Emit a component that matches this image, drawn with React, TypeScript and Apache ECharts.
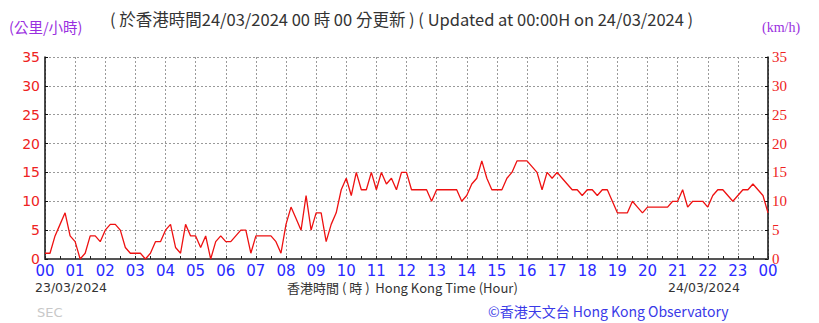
import React, { useEffect, useRef } from "react";
import * as echarts from "echarts";

// 10-minute mean wind speed (km/h), sampled every 10 minutes from 00:00 on 23/03 to 00:00 on 24/03
const SAMPLE_MINUTES = 10;
const WIND_SPEED: number[] = [
  // 00h
  1, 1, 4, 6, 8, 4,
  // 01h
  3, 0, 1, 4, 4, 3,
  // 02h
  5, 6, 6, 5, 2, 1,
  // 03h
  1, 1, 0, 1, 3, 3,
  // 04h
  5, 6, 2, 1, 6, 4,
  // 05h
  4, 2, 4, 0, 3, 4,
  // 06h
  3, 3, 4, 5, 5, 1,
  // 07h
  4, 4, 4, 4, 3, 1,
  // 08h
  6, 9, 7, 5, 11, 5,
  // 09h
  8, 8, 3, 6, 8, 12,
  // 10h
  14, 11, 15, 12, 12, 15,
  // 11h
  12, 15, 13, 14, 12, 15,
  // 12h
  15, 12, 12, 12, 12, 10,
  // 13h
  12, 12, 12, 12, 12, 10,
  // 14h
  11, 13, 14, 17, 14, 12,
  // 15h
  12, 12, 14, 15, 17, 17,
  // 16h
  17, 16, 15, 12, 15, 14,
  // 17h
  15, 14, 13, 12, 12, 11,
  // 18h
  12, 12, 11, 12, 12, 10,
  // 19h
  8, 8, 8, 10, 9, 8,
  // 20h
  9, 9, 9, 9, 9, 10,
  // 21h
  10, 12, 9, 10, 10, 10,
  // 22h
  9, 11, 12, 12, 11, 10,
  // 23h
  11, 12, 12, 13, 12, 11,
  // 24h
  8,
];

const HOUR_LABELS: string[] = [
  "00", "01", "02", "03", "04", "05", "06", "07", "08", "09", "10", "11",
  "12", "13", "14", "15", "16", "17", "18", "19", "20", "21", "22", "23", "00",
];

const Y_MIN = 0;
const Y_MAX = 35;
const Y_STEP = 5;

const TITLE = "( 於香港時間24/03/2024 00 時 00 分更新 ) ( Updated at 00:00H on 24/03/2024 )";
const UNIT_ZH = "(公里/小時)";
const UNIT_EN = "(km/h)";
const START_DATE = "23/03/2024";
const END_DATE = "24/03/2024";
const X_TITLE = "香港時間 ( 時 )  Hong Kong Time (Hour)";
const COPYRIGHT = "©香港天文台 Hong Kong Observatory";
const STATION = "SEC";

const SANS = '"Noto Sans CJK TC", "DejaVu Sans", sans-serif';
const SANS_LATIN = '"DejaVu Sans", "Noto Sans CJK TC", sans-serif';
const SERIF = '"Liberation Serif", "DejaVu Serif", serif';

export default function App() {
  const ref = useRef<HTMLDivElement>(null);

  useEffect(() => {
    if (!ref.current) return;
    const chart = echarts.init(ref.current, undefined, { renderer: "svg" });
    const data = WIND_SPEED.map((v, i) => [i * SAMPLE_MINUTES, v]);
    const gridLine = { show: true, lineStyle: { color: "#9a9a9a", type: [2, 2] as any, width: 1 } };

    chart.setOption({
      animation: false,
      backgroundColor: "#ffffff",
      grid: { left: 45, right: 51, top: 57, bottom: 64, containLabel: false },
      xAxis: {
        type: "value",
        min: 0,
        max: (HOUR_LABELS.length - 1) * 60,
        interval: 60,
        axisLine: { show: true, onZero: false, lineStyle: { color: "#555555", width: 2 } },
        axisTick: { show: true, inside: true, length: 3, lineStyle: { color: "#222" } },
        minorTick: { show: true, splitNumber: 2, length: 3, lineStyle: { color: "#222" } },
        splitLine: gridLine,
        axisLabel: {
          color: "#2a2aff",
          fontSize: 15,
          lineHeight: 12,
          fontFamily: SANS_LATIN,
          margin: 6,
          formatter: (v: number) => HOUR_LABELS[Math.round(v / 60)] ?? "",
        },
      },
      yAxis: [
        {
          type: "value",
          position: "left",
          min: Y_MIN,
          max: Y_MAX,
          interval: Y_STEP,
          axisLine: { show: true, lineStyle: { color: "#111", width: 1.5 } },
          axisTick: { show: true, inside: true, length: 3, lineStyle: { color: "#111" } },
          splitLine: gridLine,
          axisLabel: { color: "#ee2222", fontSize: 14, lineHeight: 11, fontFamily: SANS_LATIN, margin: 5 },
        },
        {
          type: "value",
          position: "right",
          min: Y_MIN,
          max: Y_MAX,
          interval: Y_STEP,
          axisLine: { show: true, lineStyle: { color: "#111", width: 1.5 } },
          axisTick: { show: true, inside: true, length: 3, lineStyle: { color: "#111" } },
          splitLine: { show: false },
          axisLabel: { color: "#ee2222", fontSize: 15, lineHeight: 11, fontFamily: SERIF, margin: 4 },
        },
      ],
      series: [
        {
          type: "line",
          data,
          xAxisIndex: 0,
          yAxisIndex: 0,
          showSymbol: false,
          symbol: "none",
          lineStyle: { color: "#ee1111", width: 1.3 },
          itemStyle: { color: "#ee1111" },
          z: 5,
        },
      ],
      graphic: [
        {
          type: "text",
          left: 110,
          top: 11,
          style: { text: TITLE, fill: "#333333", font: `16.5px ${SANS}` },
        },
        {
          type: "text",
          left: 9,
          top: 19,
          style: { text: UNIT_ZH, fill: "#9a30e0", font: `14.5px ${SANS}` },
        },
        {
          type: "text",
          left: 762,
          top: 20,
          style: { text: UNIT_EN, fill: "#9a30e0", font: `14px ${SERIF}` },
        },
        {
          type: "text",
          left: 35,
          top: 281,
          style: { text: START_DATE, fill: "#333333", font: `12.5px ${SANS_LATIN}` },
        },
        {
          type: "text",
          left: 287,
          top: 281,
          style: { text: X_TITLE, fill: "#333333", font: `13px ${SANS}` },
        },
        {
          type: "text",
          right: 79,
          top: 281,
          style: { text: END_DATE, fill: "#333333", font: `12.5px ${SANS_LATIN}` },
        },
        {
          type: "text",
          left: 488,
          top: 304,
          style: { text: COPYRIGHT, fill: "#3a3ae8", font: `14px ${SANS}` },
        },
        {
          type: "text",
          left: 37,
          top: 306,
          style: { text: STATION, fill: "#c8c8c8", font: `13px ${SANS_LATIN}` },
        },
      ],
    });
    return () => chart.dispose();
  }, []);

  return (
    <div
      ref={ref}
      style={{ position: "fixed", left: 0, top: 0, width: 819, height: 323, background: "#fff" }}
    />
  );
}
